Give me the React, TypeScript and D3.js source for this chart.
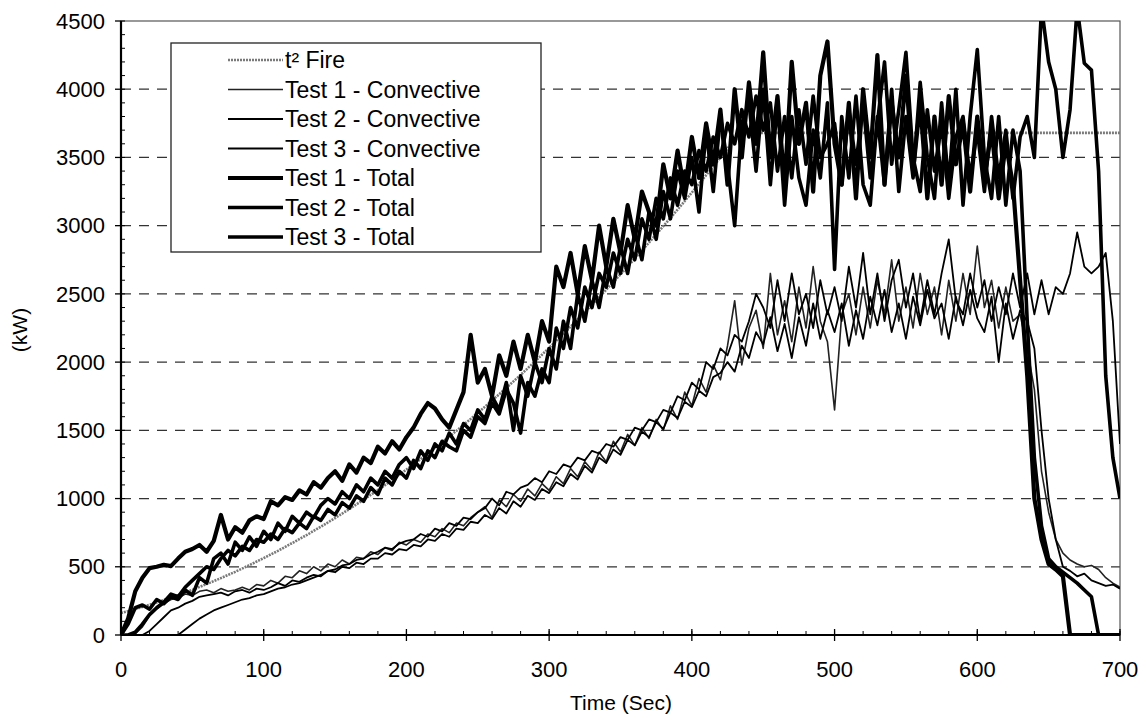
import React from "react";
import * as d3 from "d3";

// time grid for measured series (s)
const STEP = 5;
const yTicks = [0, 500, 1000, 1500, 2000, 2500, 3000, 3500, 4000, 4500];
const xTicks = [0, 100, 200, 300, 400, 500, 600, 700];

// t² design fire, values every 10 s (kW)
const t2Fire = [
  161, 190, 222, 256, 292, 331, 373, 417, 463, 512,
  564, 617, 674, 732, 793, 857, 923, 992, 1062, 1136,
  1212, 1290, 1371, 1454, 1539, 1628, 1718, 1811, 1906, 2004,
  2105, 2207, 2313, 2420, 2531, 2643, 2758, 2876, 2996, 3118,
  3243, 3370, 3500, 3632, 3680, 3680, 3680, 3680, 3680, 3680,
  3680, 3680, 3680, 3680, 3680, 3680, 3680, 3680, 3680, 3680,
  3680, 3680, 3680, 3680, 3680, 3680, 3680, 3680, 3680, 3680,
  3680,
];

const test1Conv = [
  0, 0, 10, 60, 140, 190, 230, 260, 270, 300,
  290, 320, 330, 310, 340, 320, 330, 350, 330, 370,
  360, 400, 380, 430, 420, 470, 450, 500, 470, 520,
  500, 550, 520, 570, 560, 610, 590, 640, 620, 680,
  660, 700, 680, 740, 720, 780, 750, 820, 800, 860,
  900, 940, 860, 990, 940, 1030, 980, 1070, 1020, 1110,
  1060, 1160, 1110, 1220, 1160, 1270, 1210, 1340, 1270, 1420,
  1340, 1470, 1390, 1520, 1440, 1580, 1500, 1680, 1580, 1780,
  1680, 1880, 1780, 1980, 1870, 2120, 2450, 1980, 2250, 2380,
  2100, 2650, 2200, 2450, 2150, 2550, 2250, 2700, 2300, 2150,
  1650, 2350, 2500, 2200, 2550, 2250, 2600, 2350, 2750, 2300,
  2550, 2250, 2650, 2350, 2550, 2200, 2600, 2300, 2650, 2350,
  2850, 2400, 2600, 2250, 2550, 2300, 2350, 2100, 1800, 1200,
  900, 700, 600, 550, 520, 500, 510, 480, 420, 380,
  350,
];

const test2Conv = [
  0, 0, 0, 0, 30, 80, 130, 180, 200, 230,
  250, 280, 290, 300, 310, 290, 320, 330, 310, 340,
  330, 350, 380, 360, 400, 390, 420, 440, 430, 470,
  460, 500, 490, 530, 520, 560, 560, 600, 590, 630,
  620, 660, 650, 700, 690, 740, 720, 780, 770, 830,
  820, 880, 850, 930, 890, 980, 940, 1020, 990, 1070,
  1040, 1120, 1090, 1180, 1140, 1240, 1190, 1300, 1260, 1360,
  1320, 1430, 1390, 1490, 1450, 1560, 1510, 1630, 1590, 1710,
  1670, 1790, 1750, 1890, 1920, 2000, 1930, 2120, 2030, 2220,
  2130, 2330, 2080, 2280, 2030, 2330, 2120, 2430, 2170, 2380,
  2220, 2430, 2120, 2380, 2170, 2480, 2270, 2530, 2220, 2430,
  2170, 2480, 2270, 2530, 2320, 2430, 2170, 2480, 2270, 2530,
  2320, 2220, 2480, 2000, 2430, 2170, 2380, 2300, 2100, 1500,
  1000, 700, 500, 470, 430, 450, 400, 380, 360, 370,
  340,
];

const test3Conv = [
  0, 0, 0, 0, 0, 0, 0, 0, 0, 40,
  80, 120, 150, 180, 200, 220, 240, 260, 270, 290,
  300, 320, 340, 350, 370, 380, 400, 420, 440, 470,
  480, 510, 520, 550, 560, 590, 610, 640, 630, 670,
  690, 700, 740, 720, 780, 760, 820, 800, 860, 850,
  900, 930, 1000, 950, 1050, 1030, 1080, 1100, 1150, 1120,
  1200, 1180, 1250, 1230, 1300, 1280, 1350, 1330, 1400, 1380,
  1450, 1430, 1520, 1500, 1580, 1560, 1650, 1630, 1750, 1720,
  1850, 1800, 2000, 1950, 2100, 2050, 2200, 2150, 2300, 2500,
  2400, 2250, 2600, 2300, 2650, 2350, 2500, 2250, 2600, 2350,
  2550, 2300, 2700, 2400, 2800, 2350, 2650, 2300, 2600, 2750,
  2400, 2650, 2300, 2600, 2350, 2650, 2900, 2450, 2350, 2650,
  2400, 2600, 2300, 2550, 2350, 2650, 2400, 2650, 2350, 2600,
  2350, 2550, 2500, 2650, 2950, 2700, 2650, 2700, 2800, 2300,
  1400,
];

const test1Total = [
  0, 120, 320, 420, 490, 500, 515, 505, 560, 610,
  630, 660, 610, 690, 880, 700, 790, 750, 840, 870,
  850, 980, 950, 1010, 990, 1060, 1030, 1120, 1080, 1150,
  1200, 1130, 1250, 1190, 1300, 1260, 1380, 1330, 1420, 1360,
  1450, 1520, 1620, 1700, 1660, 1580, 1520, 1650, 1780, 2200,
  1850, 1950, 1750, 2050, 1900, 2150, 1950, 2200, 2000, 2300,
  2150, 2700, 2550, 2800, 2500, 2850, 2600, 3000, 2700, 3050,
  2800, 3150, 2900, 3250, 3100, 3000, 3450, 3200, 3550, 3250,
  3650, 3350, 3750, 3450, 3850, 3300, 4000, 3500, 4050, 3600,
  4270, 3500, 3950, 3300, 4200, 3600, 3900, 3250, 4100, 4350,
  3600, 3300, 3900, 3200, 4000, 3500, 4250, 3300, 3900, 3500,
  4100, 3400, 3900, 3200, 3800, 3300, 3950, 3450, 3750, 3250,
  3800, 3350, 3700, 3200, 3600, 3300, 2600, 1900, 1000, 700,
  520, 480, 430, 0, 0, 0, 0, 0, 0, 0,
  0,
];

const test2Total = [
  0, 80, 200, 220, 190, 260, 230, 280, 260, 330,
  290, 420, 380, 560, 600, 520, 680, 620, 720, 650,
  760, 700, 820, 760, 870, 820, 900, 860, 950, 1000,
  960, 1050, 1000, 1100, 1050, 1150, 1100, 1200, 1150, 1250,
  1300, 1220, 1350, 1280, 1400, 1350, 1480, 1400, 1550, 1500,
  1650, 1580, 1750, 1650, 1850, 1500, 1900, 1750, 2000, 1850,
  2100, 1950, 2300, 2100, 2500, 2300, 2600, 2400, 2700, 2550,
  2850, 2650, 2950, 2750, 3100, 2900, 3250, 3050, 3400, 3200,
  3500, 3100, 3700, 3250, 3800, 3450, 3000, 3750, 3900, 3400,
  4000, 3300, 3900, 3150, 3800, 3350, 3150, 3700, 3350, 3900,
  2680, 3800, 3350, 3950, 3300, 3150, 3800, 3300, 4000, 3250,
  3800, 3350, 4050, 3500, 3200, 3900, 3300, 4000, 3150, 3800,
  4290, 3500, 3200, 3800, 3150, 3700, 3400, 2300, 1300, 800,
  560, 500, 460, 420, 380, 330, 280, 0, 0, 0,
  0,
];

const test3Total = [
  0, 0, 20, 80, 150, 200, 240, 300, 280, 350,
  400, 450, 500, 480, 560, 620, 580, 650, 620, 700,
  680, 740, 700, 780, 750, 820, 780, 870, 840, 920,
  880, 970, 930, 1020, 980, 1080, 1030, 1150, 1100, 1200,
  1150, 1280, 1220, 1350, 1300, 1420, 1380, 1350, 1500, 1450,
  1600, 1550, 1700, 1620, 1800, 1700, 1480, 1850, 1750, 1950,
  1850, 2250, 2100, 2400, 2250, 2550, 2400, 2650, 2550, 2800,
  2650, 2900, 2750, 3050, 2900, 3200, 3050, 3350, 3150, 3400,
  3300, 3550, 3400, 3650, 3500, 3750, 3600, 3850, 3650, 3950,
  3700, 3900, 3400, 3800, 3350, 3850, 3450, 3950, 3500, 3600,
  3750, 3300, 3850, 3450, 3900, 3350, 3750, 4200, 3450, 3850,
  4270, 3500, 3250, 3850, 3400, 3750, 3200, 3650, 3800, 3350,
  3700, 3250, 3800, 3350, 3700, 3200, 3650, 3800, 3500, 4600,
  4200, 4000, 3500, 3850, 4600, 4190, 4140, 3400, 1900, 1300,
  1000,
];

const legendItems = [
  { label: "t² Fire", key: "t2" },
  { label: "Test 1 - Convective", key: "c1" },
  { label: "Test 2 - Convective", key: "c2" },
  { label: "Test 3 - Convective", key: "c3" },
  { label: "Test 1 - Total", key: "tt1" },
  { label: "Test 2 - Total", key: "tt2" },
  { label: "Test 3 - Total", key: "tt3" },
];

const styles: Record<string, { stroke: string; width: number; dash?: string }> = {
  t2: { stroke: "#7a7a7a", width: 2.6, dash: "2,1" },
  c1: { stroke: "#222", width: 1.6 },
  c2: { stroke: "#000", width: 1.8 },
  c3: { stroke: "#000", width: 1.8 },
  tt1: { stroke: "#000", width: 4.2 },
  tt2: { stroke: "#000", width: 3.6 },
  tt3: { stroke: "#000", width: 3.6 },
};

const FONT = "Arial, 'Liberation Sans', sans-serif";

export default function App() {
  const left = 121, right = 1120, top = 21, bottom = 635;
  const x = d3.scaleLinear().domain([0, 700]).range([left, right]);
  const y = d3.scaleLinear().domain([0, 4500]).range([bottom, top]);

  const mk = (vals: number[], step: number) =>
    d3.line<number>().x((_, i) => x(i * step)).y((v) => y(v))(vals) || "";

  const series = [
    { key: "t2", d: mk(t2Fire, 10) },
    { key: "c1", d: mk(test1Conv, STEP) },
    { key: "c2", d: mk(test2Conv, STEP) },
    { key: "c3", d: mk(test3Conv, STEP) },
    { key: "tt1", d: mk(test1Total, STEP) },
    { key: "tt2", d: mk(test2Total, STEP) },
    { key: "tt3", d: mk(test3Total, STEP) },
  ];

  const minorX = d3.range(0, 701, 20);
  const minorY = d3.range(0, 4501, 100);

  const legX = 171, legY = 43, legW = 370, legH = 209;
  const rowY0 = 60, rowDy = 29.5;

  return (
    <svg width={1145} height={722} style={{ position: "absolute", left: 0, top: 0, background: "#fff" }}>
      <defs>
        <clipPath id="plot">
          <rect x={left} y={top} width={right - left} height={bottom - top} />
        </clipPath>
      </defs>
      <rect width={1145} height={722} fill="#fff" />
      {yTicks.filter((v) => v > 0 && v < 4500).map((v) => (
        <line key={v} x1={left} x2={right} y1={y(v)} y2={y(v)} stroke="#333" strokeWidth={1.3} strokeDasharray="10,8" />
      ))}
      <rect x={left} y={top} width={right - left} height={bottom - top} fill="none" stroke="#555" strokeWidth={1.2} />
      <g clipPath="url(#plot)">
        {series.map((s) => {
          const st = styles[s.key];
          return (
            <path key={s.key} d={s.d} fill="none" stroke={st.stroke} strokeWidth={st.width}
              strokeDasharray={st.dash} strokeLinejoin="round" />
          );
        })}
      </g>
      <line x1={left} x2={left} y1={top} y2={bottom} stroke="#000" strokeWidth={2.2} />
      <line x1={left} x2={right} y1={bottom} y2={bottom} stroke="#000" strokeWidth={2.2} />
      {minorY.map((v) => (
        <line key={"my" + v} x1={left} x2={left + 4} y1={y(v)} y2={y(v)} stroke="#000" strokeWidth={1} />
      ))}
      {minorX.map((v) => (
        <line key={"mx" + v} x1={x(v)} x2={x(v)} y1={bottom} y2={bottom - 4} stroke="#000" strokeWidth={1} />
      ))}
      {yTicks.map((v) => (
        <g key={"yt" + v}>
          <line x1={left - 6} x2={left} y1={y(v)} y2={y(v)} stroke="#000" strokeWidth={1.3} />
          <text x={105} y={y(v)} dy="0.35em" textAnchor="end" fontFamily={FONT} fontSize={22} fill="#000">{v}</text>
        </g>
      ))}
      {xTicks.map((v) => (
        <g key={"xt" + v}>
          <line x1={x(v)} x2={x(v)} y1={bottom - 6} y2={bottom + 6} stroke="#000" strokeWidth={1.3} />
          <text x={x(v)} y={677} textAnchor="middle" fontFamily={FONT} fontSize={22} fill="#000">{v}</text>
        </g>
      ))}
      <text x={621} y={710} textAnchor="middle" fontFamily={FONT} fontSize={21} fill="#000">Time (Sec)</text>
      <text transform="translate(27,330) rotate(-90)" textAnchor="middle" fontFamily={FONT} fontSize={21} fill="#000">(kW)</text>
      <rect x={legX} y={legY} width={legW} height={legH} fill="#fff" stroke="#222" strokeWidth={1.3} />
      {legendItems.map((it, i) => {
        const st = styles[it.key];
        const yy = rowY0 + i * rowDy;
        return (
          <g key={it.key}>
            <line x1={228} x2={283} y1={yy} y2={yy} stroke={st.stroke} strokeWidth={st.width} strokeDasharray={st.dash} />
            <text x={285} y={yy} dy="0.35em" fontFamily={FONT} fontSize={23} fill="#000">{it.label}</text>
          </g>
        );
      })}
    </svg>
  );
}
